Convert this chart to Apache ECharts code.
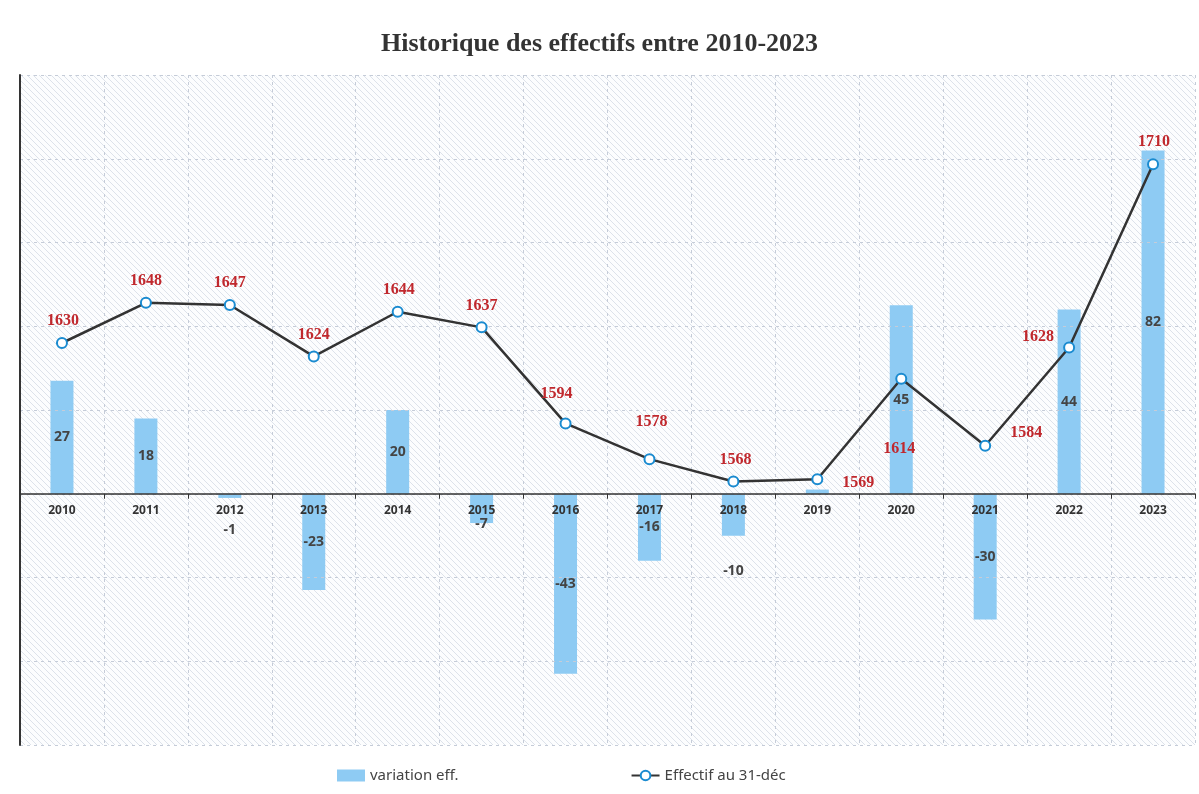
<!DOCTYPE html>
<html>
<head>
<meta charset="utf-8">
<script src="https://cdn.jsdelivr.net/npm/echarts@6/dist/echarts.min.js"></script>
<style>
html,body{margin:0;padding:0;background:#fff;}
#main{width:1199px;height:794px;}
</style>
</head>
<body>
<div id="main"></div>
<script>
var years = ['2010','2011','2012','2013','2014','2015','2016','2017','2018','2019','2020','2021','2022','2023'];
var variation = [27, 18, -1, -23, 20, -7, -43, -16, -10, 1, 45, -30, 44, 82];
var effectif = [1630, 1648, 1647, 1624, 1644, 1637, 1594, 1578, 1568, 1569, 1614, 1584, 1628, 1710];
var leftTicks = {min: -60, max: 100, interval: 20};
var rightTicks = {min: 1450, max: 1750};

// label placement (style only)
var barLabelOffsets = [[0,0],[0,0],[0,34],[0,0],[0,0],[0,16],[0,0],[0,0],[0,56],null,[0,0],[0,0],[0,0],[0,0]];
var lineLabelPlace = [
  ['top',[1,0]],['top',[0,0]],['top',[0,0]],['top',[0,0]],['top',[1,0]],['top',[0,0]],
  ['top',[-9,-8]],['top',[2,-15]],['top',[2,0]],['right',[11,4]],['bottom',[-2,48]],
  ['right',[11,-13]],['left',[-1,-11]],['top',[1,0]]
];

var gridTop = 75, gridBottom = 49, chartH = 794;
var plotH = chartH - gridTop - gridBottom;
var zeroFromBottom = plotH * (0 - leftTicks.min) / (leftTicks.max - leftTicks.min);

// hatched background pattern
var pc = document.createElement('canvas');
pc.width = 6; pc.height = 6;
var pctx = pc.getContext('2d');
pctx.fillStyle = '#fcfdfe';
pctx.fillRect(0,0,6,6);
pctx.strokeStyle = 'rgba(175,185,205,0.5)';
pctx.lineWidth = 0.8;
pctx.beginPath();
pctx.moveTo(-1,-1); pctx.lineTo(7,7);
pctx.moveTo(-1,5); pctx.lineTo(1,7);
pctx.moveTo(5,-1); pctx.lineTo(7,1);
pctx.stroke();

var barData = variation.map(function(v, i){
  var off = barLabelOffsets[i];
  return {
    value: v,
    label: off ? {show: true, position: 'inside', offset: off} : {show: false}
  };
});
var lineData = effectif.map(function(v, i){
  var p = lineLabelPlace[i];
  return {value: v, label: {show: true, position: p[0], offset: p[1]}};
});

var chart = echarts.init(document.getElementById('main'));
chart.setOption({
  backgroundColor: '#ffffff',
  animation: false,
  title: {
    text: 'Historique des effectifs entre 2010-2023',
    left: 'center', top: 26,
    textStyle: {fontFamily: 'Liberation Serif', fontWeight: 'bold', fontSize: 26, color: '#333'}
  },
  legend: {
    bottom: 6, left: 332, itemGap: 172,
    itemWidth: 28, itemHeight: 12,
    textStyle: {fontFamily: 'Noto Sans', fontSize: 15, color: '#444'},
    data: [
      {name: 'variation eff.', icon: 'rect'},
      {name: 'Effectif au 31-déc'}
    ]
  },
  grid: {
    left: 20, right: 4, top: gridTop, bottom: gridBottom,
    show: true, borderWidth: 0,
    backgroundColor: {image: pc, repeat: 'repeat'}
  },
  xAxis: [
    {
      type: 'category',
      data: years,
      position: 'bottom',
      offset: -zeroFromBottom,
      z: 8,
      axisLine: {show: true, onZero: false, lineStyle: {color: '#333', width: 1.5}},
      axisTick: {show: true, length: 5, lineStyle: {color: '#333'}},
      axisLabel: {fontFamily: 'Noto Sans', fontWeight: 'bold', fontSize: 12, color: '#333', margin: 11},
      splitLine: {
        show: true,
        interval: function (index) { return index > 0; },
        lineStyle: {color: '#c5ccd8', type: [3,4], width: 1}
      }
    }
  ],
  yAxis: [
    {
      type: 'value', min: leftTicks.min, max: leftTicks.max, interval: leftTicks.interval,
      z: 7,
      axisLine: {show: true, lineStyle: {color: '#333', width: 2}},
      axisTick: {show: false}, axisLabel: {show: false},
      splitLine: {show: true, lineStyle: {color: '#c5ccd8', type: [3,4], width: 1}}
    },
    {
      type: 'value', min: rightTicks.min, max: rightTicks.max,
      show: false, splitLine: {show: false}
    }
  ],
  series: [
    {
      name: 'variation eff.',
      type: 'bar',
      yAxisIndex: 0,
      barWidth: 23,
      data: barData,
      itemStyle: {color: '#8ecbf3'},
      label: {fontFamily: 'Noto Sans', fontWeight: 'bold', fontSize: 14, color: '#444'},
      z: 2
    },
    {
      name: 'Effectif au 31-déc',
      type: 'line',
      yAxisIndex: 1,
      data: lineData,
      symbol: 'circle',
      symbolSize: 10,
      showAllSymbol: true,
      lineStyle: {color: '#333', width: 2.5},
      itemStyle: {color: '#ffffff', borderColor: '#1a8bd0', borderWidth: 2},
      label: {fontFamily: 'Liberation Serif', fontWeight: 'bold', fontSize: 16, color: '#c0282d', distance: 8},
      z: 9
    }
  ]
});
</script>
</body>
</html>
